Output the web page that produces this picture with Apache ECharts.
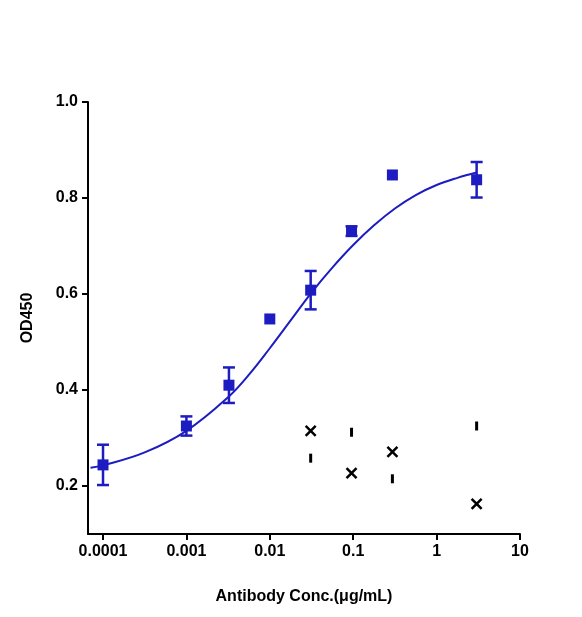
<!DOCTYPE html><html><head><meta charset="utf-8"><script src="https://cdn.jsdelivr.net/npm/echarts@6/dist/echarts.min.js"></script></head><body style="margin:0"><div id="c" style="width:582px;height:617px"></div><script>
const logConc=[-4.0,-3.0,-2.49,-2.0,-1.51,-1.02,-0.53,0.48];
const od=[0.244,0.325,0.41,0.548,0.608,0.731,0.848,0.838];
const err=[0.042,0.02,0.037,0,0.04,0.01,0,0.037];
const curveX=[-4.15,-4,-3.5,-3,-2.5,-2.25,-2,-1.75,-1.5,-1.25,-1,-0.75,-0.5,-0.25,0,0.25,0.48];
const curveY=[0.238,0.243,0.27,0.315,0.385,0.432,0.487,0.545,0.603,0.655,0.702,0.743,0.778,0.806,0.827,0.842,0.853];
const crossX=[-1.51,-1.02,-0.53,0.48], crossY=[0.315,0.227,0.271,0.163];
const barX=[-1.51,-1.02,-0.53,0.48], barY=[0.258,0.312,0.215,0.325];
const xTicks=[-4,-3,-2,-1,0,1], xLabels=['0.0001','0.001','0.01','0.1','1','10'];
const yTicks=[0.2,0.4,0.6,0.8,1.0];
const blue='#1c1cc0';
const f={fontFamily:'Liberation Sans',fontWeight:'bold',color:'#000',fontSize:16};
const chart=echarts.init(document.getElementById('c'));
chart.setOption({animation:false,
grid:{left:88,right:62,top:102,bottom:83},
xAxis:{type:'value',min:-4.18,max:1,name:'Antibody Conc.(μg/mL)',nameLocation:'middle',nameGap:55,nameTextStyle:f,
 axisLine:{onZero:false,lineStyle:{color:'#000',width:2}},splitLine:{show:false},
 axisTick:{customValues:xTicks,length:6,lineStyle:{width:2}},
 axisLabel:Object.assign({},f,{customValues:xTicks,formatter:v=>xLabels[xTicks.indexOf(Math.round(v))],margin:10})},
yAxis:{type:'value',min:0.1,max:1.0,name:'OD450',nameLocation:'middle',nameGap:52,nameTextStyle:f,
 axisLine:{show:true,onZero:false,lineStyle:{color:'#000',width:2}},splitLine:{show:false},
 axisTick:{show:true,customValues:yTicks,length:6,lineStyle:{width:2}},
 axisLabel:Object.assign({},f,{customValues:yTicks,formatter:v=>v.toFixed(1),margin:10})},
series:[
{type:'line',data:curveX.map((x,i)=>[x,curveY[i]]),smooth:0.4,symbol:'none',lineStyle:{color:blue,width:2}},
{type:'custom',data:logConc.map((x,i)=>[x,od[i],err[i]]),renderItem:(p,api)=>{
 const x=api.value(0),y=api.value(1),e=api.value(2);if(!e)return;
 const a=api.coord([x,y+e]),b=api.coord([x,y-e]);
 const s={stroke:blue,lineWidth:2.5};
 return {type:'group',children:[{type:'line',shape:{x1:a[0],y1:a[1],x2:b[0],y2:b[1]},style:s},
 {type:'line',shape:{x1:a[0]-6,y1:a[1],x2:a[0]+6,y2:a[1]},style:s},
 {type:'line',shape:{x1:b[0]-6,y1:b[1],x2:b[0]+6,y2:b[1]},style:s}]};}},
{type:'scatter',data:logConc.map((x,i)=>[x,od[i]]),symbol:'rect',symbolSize:11,itemStyle:{color:blue,opacity:1}},
{type:'scatter',data:crossX.map((x,i)=>[x,crossY[i]]),symbol:'path://M0,0L10,10M10,0L0,10',symbolSize:10,itemStyle:{color:'none',borderColor:'#000',borderWidth:2.5,opacity:1}},
{type:'scatter',data:barX.map((x,i)=>[x,barY[i]]),symbol:'rect',symbolSize:[3,9],itemStyle:{color:'#000',opacity:1}}
]});
</script></body></html>
